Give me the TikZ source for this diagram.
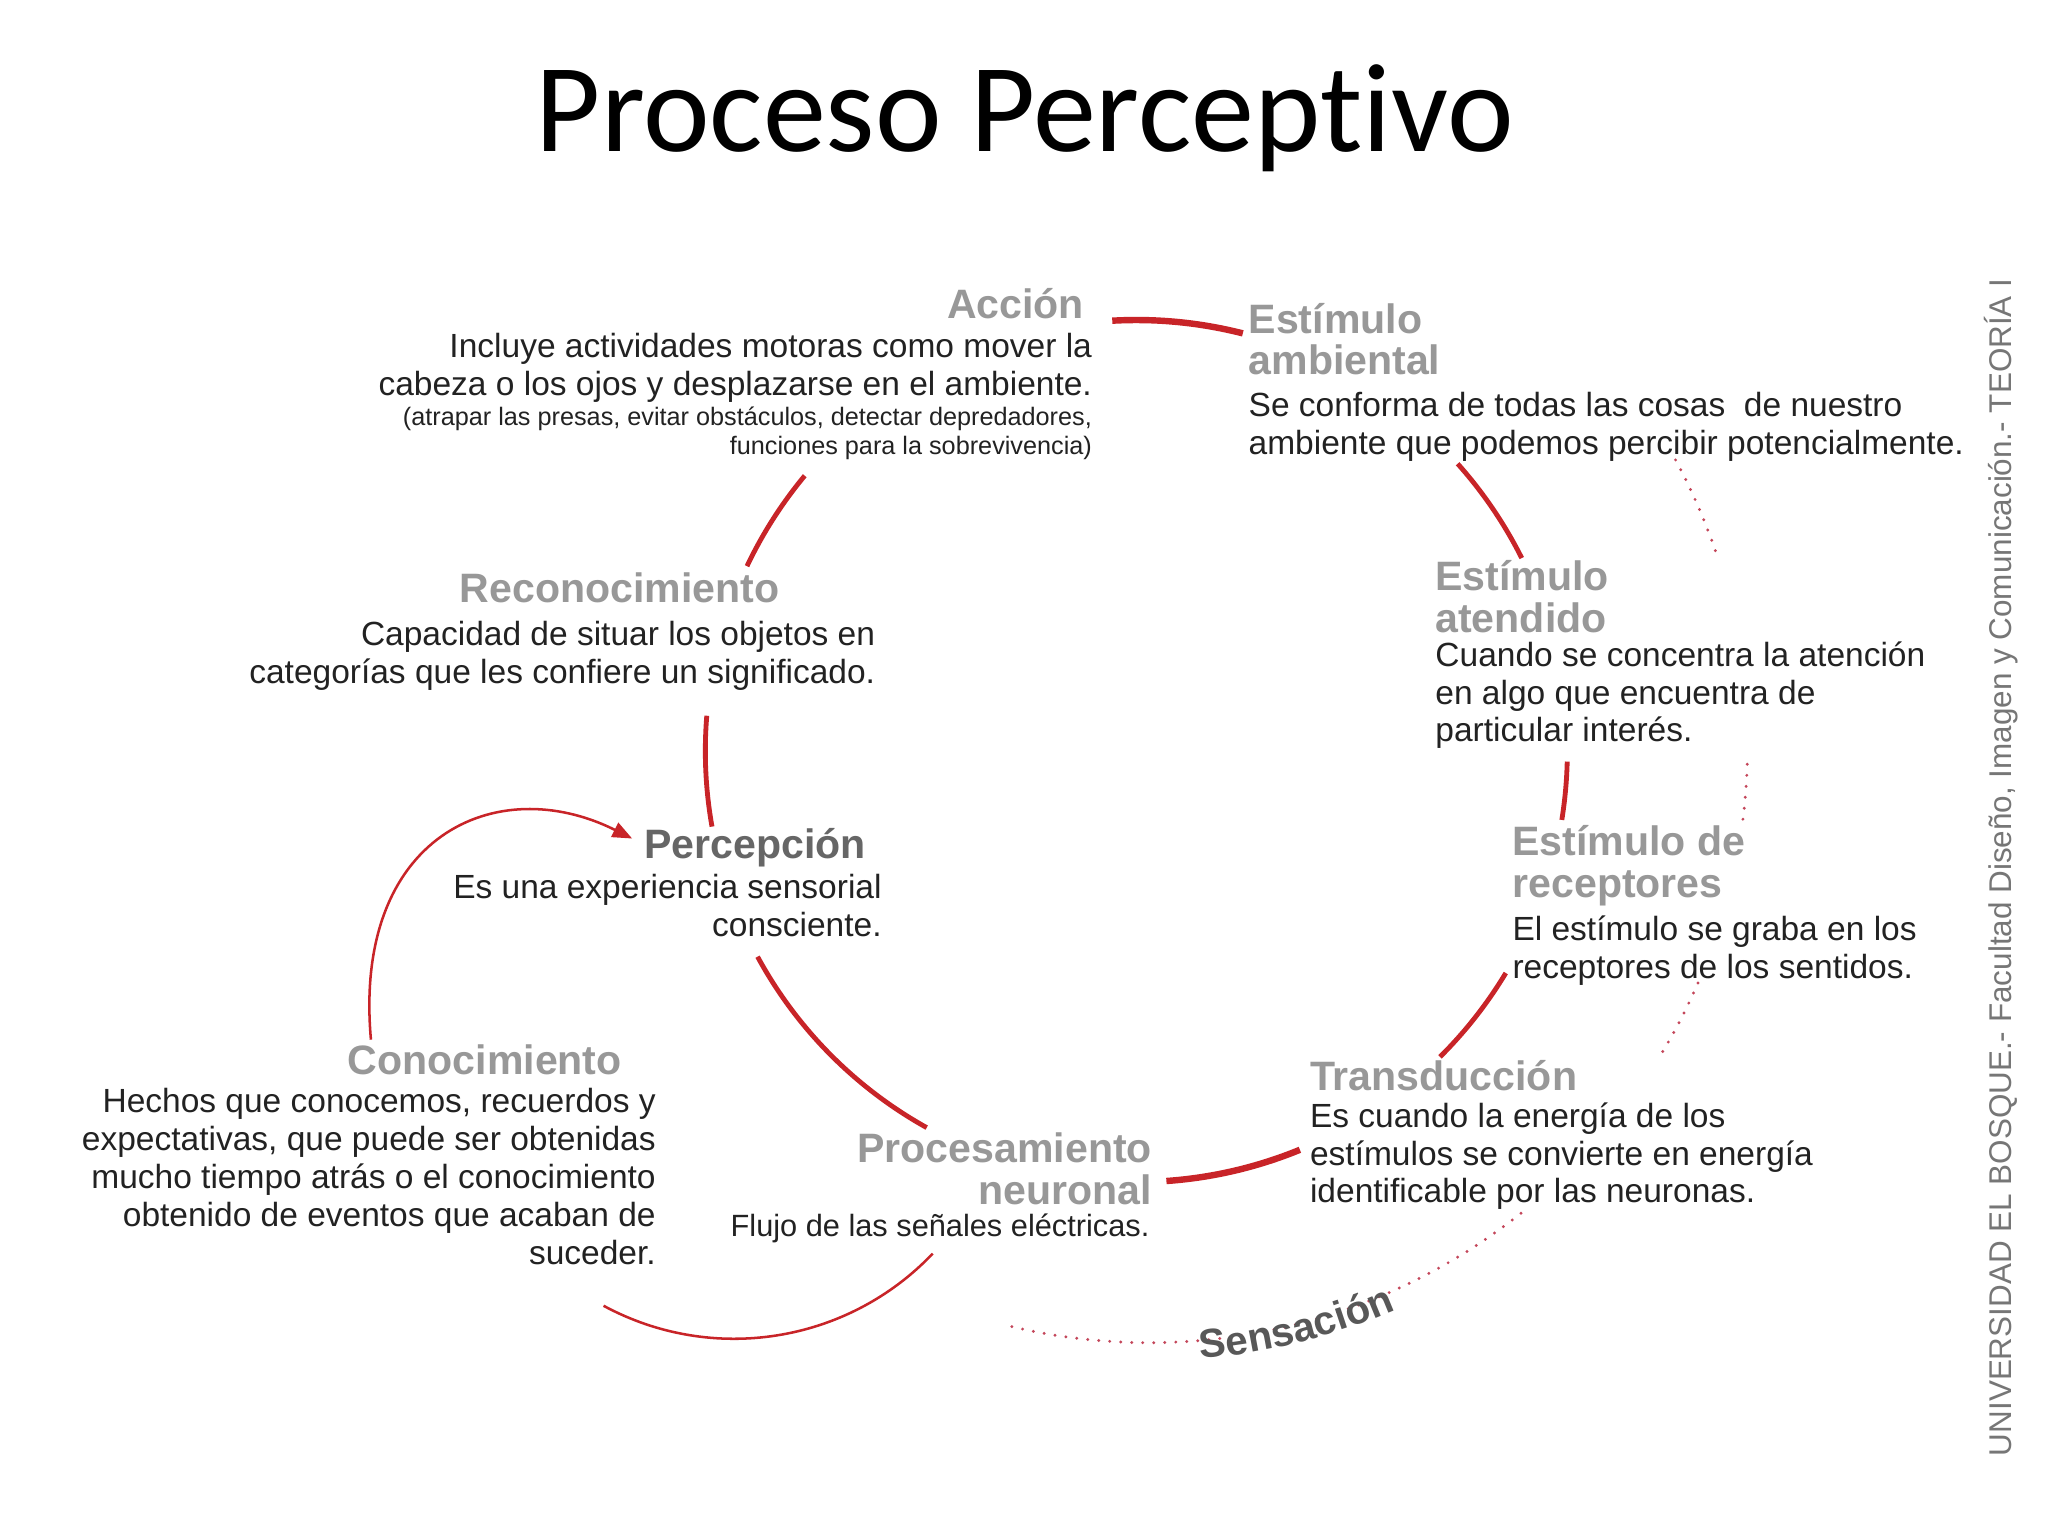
\documentclass[tikz,border=0pt]{standalone}
\usepackage{fontspec}
\setmainfont{Liberation Sans}
\newfontfamily\titlefont[Ligatures=NoCommon]{Carlito}
\usetikzlibrary{arrows.meta, decorations.text}
\definecolor{cycred}{RGB}{200,36,40}
\definecolor{dotred}{RGB}{196,70,90}
\definecolor{headgray}{RGB}{152,152,152}
\definecolor{pergray}{RGB}{102,102,102}
\definecolor{sensgray}{RGB}{88,88,88}
\definecolor{textblack}{RGB}{34,34,34}
\definecolor{sidegray}{RGB}{118,118,118}
\newcommand\sensfont{\fontsize{17.6}{17.6}\selectfont\bfseries}

\begin{document}
\begin{tikzpicture}[x=0.02cm, y=-0.02cm,
        inner sep=0pt, outer sep=0pt,
        headtxt/.style={font=\fontsize{17.9}{18.2}\selectfont\bfseries, text=headgray},
        bodytxt/.style={font=\fontsize{14.6}{16.5}\selectfont, text=textblack},
        notetxt/.style={font=\fontsize{11}{12.5}\selectfont, text=textblack},
        cycarc/.style={draw=cycred, line width=2.1pt},
        thinarc/.style={draw=cycred, line width=1.1pt},
        dotarc/.style={draw=dotred, line width=1.4pt, line cap=round, dash pattern=on 0pt off 4.8pt},
        ]

        \fill[white] (0,0) rectangle (1568,1176);
        \useasboundingbox (0,0) rectangle (1568,1176);

        \node[font=\titlefont\fontsize{55}{58}\selectfont, anchor=base] (title) at (784.5,116) {Proceso Perceptivo};

        % blocks of the cycle (base = last line)
        \node[headtxt, anchor=base east] (acc) at (830,244) {Acción};
        \node[bodytxt, anchor=base east, align=right] (acc-txt) at (836,303) {Incluye actividades motoras como mover la\\cabeza o los ojos y desplazarse en el ambiente.};
        \node[notetxt, anchor=base east, align=right] (acc-note) at (836,348) {(atrapar las presas, evitar obstáculos, detectar depredadores,\\funciones para la sobrevivencia)};

        \node[headtxt, anchor=base west, align=left] (amb) at (956,287) {Estímulo\\ambiental};
        \node[bodytxt, anchor=base west, align=left] (amb-txt) at (956,348) {Se conforma de todas las cosas\ \ de nuestro\\ambiente que podemos percibir potencialmente.};

        \node[headtxt, anchor=base west, align=left] (ate) at (1099,484) {Estímulo\\atendido};
        \node[bodytxt, anchor=base west, align=left] (ate-txt) at (1099,568) {Cuando se concentra la atención\\en algo que encuentra de\\particular interés.};

        \node[headtxt, anchor=base west, align=left] (rcp) at (1158,687) {Estímulo de\\receptores};
        \node[bodytxt, anchor=base west, align=left] (rcp-txt) at (1158,749) {El estímulo se graba en los\\receptores de los sentidos.};

        \node[headtxt, anchor=base west] (tra) at (1003,835) {Transducción};
        \node[bodytxt, anchor=base west, align=left] (tra-txt) at (1003,921) {Es cuando la energía de los\\estímulos se convierte en energía\\identificable por las neuronas.};

        \node[headtxt, anchor=base east, align=right] (pro) at (882,922) {Procesamiento\\neuronal};
        \node[bodytxt, font=\fontsize{13.4}{15}\selectfont, anchor=base east] (pro-txt) at (880,947) {Flujo de las señales eléctricas.};

        \node[headtxt, anchor=base east, text=pergray] (per) at (663,657) {Percepción};
        \node[bodytxt, anchor=base east, align=right] (per-txt) at (675,717) {Es una experiencia sensorial\\consciente.};

        \node[headtxt, anchor=base west] (rec) at (352,461) {Reconocimiento};
        \node[bodytxt, anchor=base east, align=right] (rec-txt) at (670,523) {Capacidad de situar los objetos en\\categorías que les confiere un significado.};

        \node[headtxt, anchor=base east] (con) at (476,823) {Conocimiento};
        \node[bodytxt, anchor=base east, align=right] (con-txt) at (502,968) {Hechos que conocemos, recuerdos y\\expectativas, que puede ser obtenidas\\mucho tiempo atrás o el conocimiento\\obtenido de eventos que acaban de\\suceder.};

        \node[font=\fontsize{13.7}{14}\selectfont, text=sidegray, rotate=90] (uni) at (1532,664) {UNIVERSIDAD EL BOSQUE.- Facultad Diseño, Imagen y Comunicación.- TEORÍA I};

        % the red cycle
        \coordinate (ctr) at (870,575);
        \draw[cycarc, line width=2.8pt] (ctr) ++(-93.2:330) arc[start angle=-93.2, end angle=-75.7, radius=330];
        \draw[cycarc] (ctr) ++(-41.8:330) arc[start angle=-41.8, end angle=-26.6, radius=330];
        \draw[cycarc] (ctr) ++(1.4:330) arc[start angle=1.4, end angle=9.2, radius=330];
        \draw[cycarc] (ctr) ++(31:330) arc[start angle=31, end angle=45.2, radius=330];
        \draw[cycarc, line width=2.8pt] (ctr) ++(67.7:330) arc[start angle=67.7, end angle=86, radius=330];
        \draw[cycarc] (ctr) ++(119.1:330) arc[start angle=119.1, end angle=151.5, radius=330];
        \draw[cycarc] (ctr) ++(169.9:330) arc[start angle=169.9, end angle=184.7, radius=330];
        \draw[cycarc] (ctr) ++(205.4:330) arc[start angle=205.4, end angle=219.7, radius=330];

        % conocimiento loop
        \coordinate (low) at (562,815);
        \draw[thinarc] (low) ++(43.6:210) arc[start angle=43.6, end angle=118.4, radius=210];
        \coordinate (con-up) at (284,796);
        \coordinate (per-in) at (484,642);
        \draw[thinarc, -{Triangle[length=0.3cm, width=0.24cm]}] (con-up) .. controls (270,640) and (380,590) .. (per-in);

        % sensacion
        \coordinate (out) at (880,570);
        \draw[dotarc] (out) ++(-28.4:458) arc[start angle=-28.4, end angle=-18, radius=458];
        \draw[dotarc] (out) ++(1.9:458) arc[start angle=1.9, end angle=7.8, radius=458];
        \draw[dotarc] (out) ++(23.5:458) arc[start angle=23.5, end angle=31.5, radius=458];
        \draw[dotarc] (out) ++(51.6:458) arc[start angle=51.6, end angle=103.6, radius=458];
        \path[decorate, decoration={text along path, text={|\sensfont|Sensación}, text color=sensgray, text align={fit to path}}]
            (out) ++(85.2:472) arc[start angle=85.2, end angle=66.6, radius=472];

\end{tikzpicture}
\end{document}
